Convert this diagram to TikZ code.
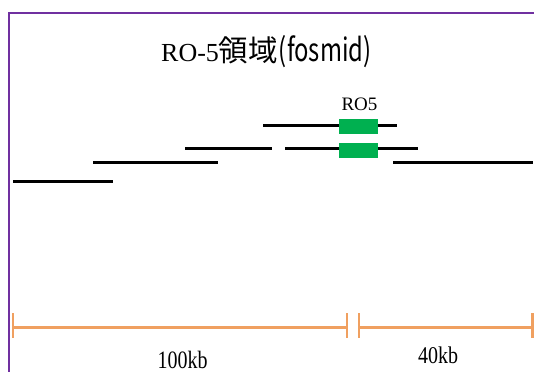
\documentclass[tikz,border=0pt]{standalone}
\usepackage{fontspec}
\setmainfont{Liberation Serif}
\newfontfamily\cjk{Noto Sans CJK JP}
\definecolor{framepurple}{RGB}{112,48,160}
\definecolor{genegreen}{RGB}{0,176,80}
\definecolor{scaleorange}{RGB}{240,160,96}
\tikzset{
  frameline/.style={draw=framepurple, line width=2pt},
  clone/.style={draw=black, line width=3pt},
  gene/.style={fill=genegreen, draw=none, minimum width=39pt, minimum height=15.5pt, inner sep=0pt},
  scalebar/.style={draw=scaleorange, line width=2.8pt},
  scaletick/.style={draw=scaleorange, line width=2.4pt},
  lbl/.style={inner sep=0pt, font=\fontsize{20}{22}\selectfont},
}
\begin{document}
\begin{tikzpicture}[x=1pt, y=-1pt]
\useasboundingbox (0,0) rectangle (534,372);
% frame (top and left only)
\draw[frameline] (534,12.5) -- (8.5,12.5) -- (8.5,372);
% title
\node[anchor=base west, inner sep=0pt] (title) at (161,61)
  {\fontsize{26}{30}\selectfont RO-5{\cjk\fontsize{29.5}{32}\selectfont 領域\hspace{1pt}\scalebox{0.82}[1.1]{\fontsize{29}{32}\selectfont(fosmid)}}};
% gene label
\node[anchor=base, lbl, font=\fontsize{19}{22}\selectfont] (ro5) at (359.5,110.5) {RO5};
% clone lines
\coordinate (a1) at (263,125);  \coordinate (a2) at (397,125);
\coordinate (b1) at (285,148.5);\coordinate (b2) at (418,148.5);
\coordinate (c1) at (185,148.5);\coordinate (c2) at (272,148.5);
\coordinate (d1) at (393,162.5);\coordinate (d2) at (533,162.5);
\coordinate (e1) at (93,162.5); \coordinate (e2) at (218,162.5);
\coordinate (f1) at (13,181.5); \coordinate (f2) at (113,181.5);
\draw[clone] (a1) -- (a2);
\draw[clone] (b1) -- (b2);
\draw[clone] (c1) -- (c2);
\draw[clone] (d1) -- (d2);
\draw[clone] (e1) -- (e2);
\draw[clone] (f1) -- (f2);
% genes
\node[gene] (g1) at (358,126.5) {};
\node[gene] (g2) at (358,150.5) {};
% scale bars
\coordinate (s1) at (13,327.5);  \coordinate (s2) at (347,327.5);
\coordinate (s3) at (359,327.5); \coordinate (s4) at (532.5,327.5);
\draw[scalebar] (s1) -- (s2);
\draw[scalebar] (s3) -- (s4);
\foreach \p in {s1,s2,s3,s4} \draw[scaletick] ([yshift=-10pt]\p) -- ([yshift=15pt]\p);
% labels
\node[anchor=base, lbl] (l100) at (182.5,368) {\scalebox{1}[1.25]{100kb}};
\node[anchor=base, lbl] (l40) at (438,363) {\scalebox{1}[1.2]{40kb}};
\end{tikzpicture}
\end{document}
